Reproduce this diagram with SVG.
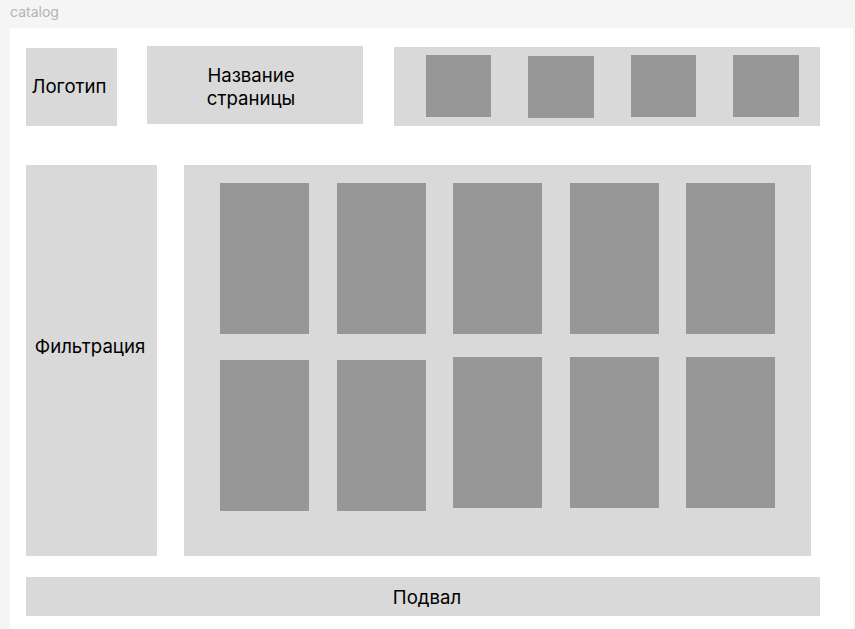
<svg xmlns="http://www.w3.org/2000/svg" width="855" height="629" viewBox="0 0 855 629">
<style>
.box{fill:#d9d9d9}
.ph{fill:#979797}
.t{font-family:Inter,"Noto Sans",sans-serif;font-size:18.6px;fill:#000;text-anchor:middle;dominant-baseline:central}
</style>
<rect x="0" y="0" width="855" height="629" fill="#f5f5f5"/>
<text x="10" y="17" font-family="Inter,sans-serif" font-size="14" fill="#b3b3b3">catalog</text>
<rect x="10" y="28" width="843" height="601" fill="#ffffff"/>
<g id="logo"><rect class="box" x="26" y="48" width="91" height="78"/><text class="t" x="69" y="86">Логотип</text></g>
<g id="title"><rect class="box" x="147" y="46" width="216" height="78"/><text class="t" x="251" y="75">Название</text><text class="t" x="251" y="98">страницы</text></g>
<g id="nav"><rect class="box" x="394" y="47" width="426" height="79"/>
<rect class="ph" x="426" y="55" width="65" height="62"/>
<rect class="ph" x="528" y="56" width="66" height="62"/>
<rect class="ph" x="631" y="55" width="65" height="62"/>
<rect class="ph" x="733" y="55" width="66" height="62"/></g>
<g id="filter"><rect class="box" x="26" y="165" width="131" height="391"/><text class="t" x="90" y="346">Фильтрация</text></g>
<g id="main"><rect class="box" x="184" y="165" width="627" height="391"/>
<rect class="ph" x="220" y="183" width="89" height="151"/>
<rect class="ph" x="337" y="183" width="89" height="151"/>
<rect class="ph" x="453" y="183" width="89" height="151"/>
<rect class="ph" x="570" y="183" width="89" height="151"/>
<rect class="ph" x="686" y="183" width="89" height="151"/>
<rect class="ph" x="220" y="360" width="89" height="151"/>
<rect class="ph" x="337" y="360" width="89" height="151"/>
<rect class="ph" x="453" y="357" width="89" height="151"/>
<rect class="ph" x="570" y="357" width="89" height="151"/>
<rect class="ph" x="686" y="357" width="89" height="151"/></g>
<g id="footer"><rect class="box" x="26" y="577" width="794" height="39"/><text class="t" x="427" y="597">Подвал</text></g>
<g id="connectors"></g>
</svg>
